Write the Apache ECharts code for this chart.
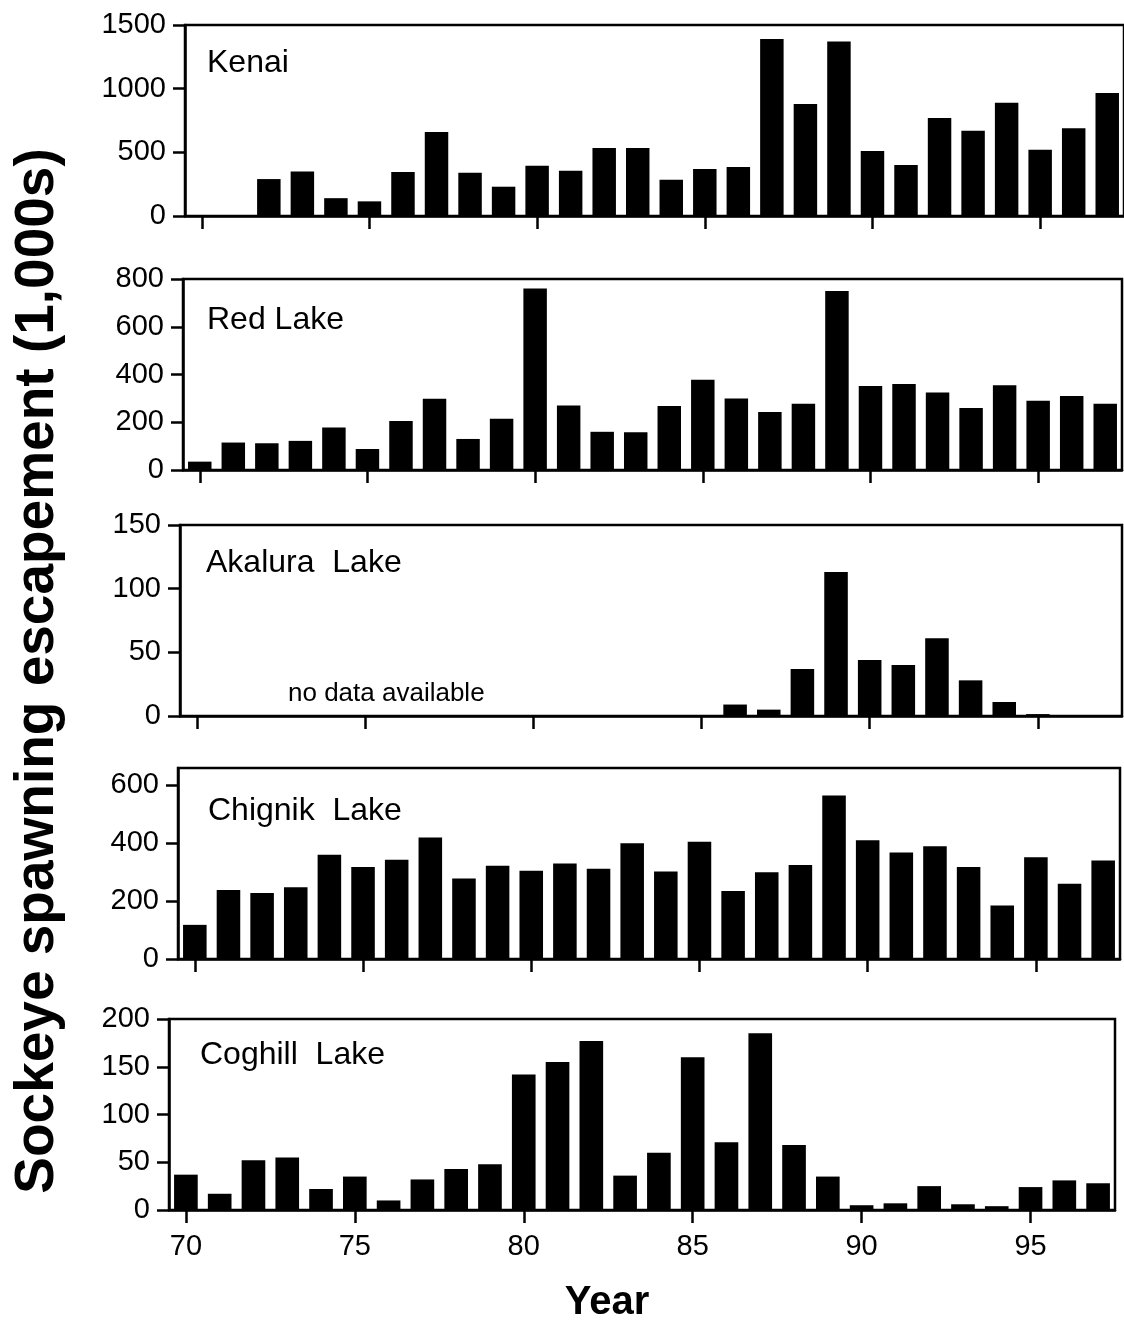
<!DOCTYPE html>
<html>
<head>
<meta charset="utf-8">
<script src="https://cdn.jsdelivr.net/npm/echarts@6/dist/echarts.min.js"></script>
<style>
html, body { margin: 0; padding: 0; background: #fff; }
#main { width: 1124px; height: 1322px; }
</style>
</head>
<body>
<div id="main"></div>
<script>
// years 1970-1997, shown as two digits
var years = ['70', '71', '72', '73', '74', '75', '76', '77', '78', '79',
    '80', '81', '82', '83', '84', '85', '86', '87', '88', '89',
    '90', '91', '92', '93', '94', '95', '96', '97'];

// spawning escapement, thousands of fish (null = no bar)
var kenai = [null, null, 290, 350, 140, 115, 345, 660, 340, 230, 395, 355, 535, 535,
    285, 370, 385, 1390, 880, 1370, 510, 400, 770, 670, 890, 520, 690, 965];
var redLake = [35, 115, 112, 122, 178, 88, 205, 298, 130, 215, 760, 270, 160, 158,
    268, 378, 300, 243, 278, 750, 352, 360, 325, 260, 355, 290, 310, 278];
var akalura = [null, null, null, null, null, null, null, null, null, null, null, null, null, null,
    null, null, 9, 5, 37, 113, 44, 40, 61, 28, 11, 1.5, null, null];
var chignik = [118, 238, 228, 248, 360, 318, 343, 420, 278, 322, 305, 330, 312, 400,
    302, 405, 235, 300, 325, 565, 410, 368, 390, 318, 185, 352, 260, 340];
var coghill = [37, 17, 52, 55, 22, 35, 10, 32, 43, 48, 142, 155, 177, 36,
    60, 160, 71, 185, 68, 35, 5, 7, 25, 6, 4, 24, 31, 28];

var panelNames = ['Kenai', 'Red Lake', 'Akalura  Lake', 'Chignik  Lake', 'Coghill  Lake'];
var panelData = [kenai, redLake, akalura, chignik, coghill];
var panelMax = [1500, 800, 150, 660, 200];
var panelTicks = [
    [0, 500, 1000, 1500],
    [0, 200, 400, 600, 800],
    [0, 50, 100, 150],
    [0, 200, 400, 600],
    [0, 50, 100, 150, 200]
];

var myChart = echarts.init(document.getElementById('main'));
var fontName = 'Liberation Sans';

// frame of each panel (the scanned page is a little tilted, so lefts differ)
var boxes = [
    { left: 185, top: 25, width: 941 },
    { left: 183, top: 279, width: 939 },
    { left: 180, top: 525, width: 942 },
    { left: 178, top: 768, width: 942 },
    { left: 169, top: 1019, width: 946 }
];
// label position inside each frame
var labelPos = [[207, 63], [207, 320], [206, 563], [208, 811], [200, 1055]];

var grids = [], xAxes = [], yAxes = [], series = [], graphics = [];

function everyFifth(idx) {
    return idx % 5 === 0;
}

for (var i = 0; i < 5; i++) {
    var last = (i === 4);
    grids.push({
        left: boxes[i].left,
        top: boxes[i].top,
        width: boxes[i].width,
        height: 191,
        show: true,
        borderColor: '#000',
        borderWidth: 2.5,
        backgroundColor: 'transparent'
    });
    xAxes.push({
        type: 'category',
        gridIndex: i,
        data: years,
        boundaryGap: true,
        axisLine: { show: true, lineStyle: { color: '#000', width: 2.5 } },
        axisTick: {
            show: true,
            alignWithLabel: true,
            inside: false,
            length: 13,
            interval: everyFifth,
            lineStyle: { color: '#000', width: 2.5 }
        },
        axisLabel: {
            show: last,
            interval: everyFifth,
            margin: 22,
            color: '#000',
            fontFamily: fontName,
            fontSize: 29
        },
        splitLine: { show: false }
    });
    yAxes.push({
        type: 'value',
        gridIndex: i,
        min: 0,
        max: panelMax[i],
        axisLine: { show: true, lineStyle: { color: '#000', width: 2.5 } },
        axisTick: {
            show: true,
            length: 12,
            customValues: panelTicks[i],
            lineStyle: { color: '#000', width: 2.5 }
        },
        axisLabel: {
            customValues: panelTicks[i],
            formatter: function (v) { return String(v); },
            margin: 19,
            color: '#000',
            fontFamily: fontName,
            fontSize: 29
        },
        splitLine: { show: false }
    });
    series.push({
        type: 'bar',
        xAxisIndex: i,
        yAxisIndex: i,
        data: panelData[i],
        barCategoryGap: '30%',
        itemStyle: { color: '#000' },
        silent: true
    });
    graphics.push({
        type: 'text',
        x: labelPos[i][0],
        y: labelPos[i][1],
        style: {
            text: panelNames[i],
            fill: '#000',
            fontFamily: fontName,
            fontSize: 32,
            align: 'left',
            verticalAlign: 'middle'
        }
    });
}

graphics.push({
    type: 'text',
    x: 288,
    y: 694,
    style: {
        text: 'no data available',
        fill: '#000',
        fontFamily: fontName,
        fontSize: 26,
        align: 'left',
        verticalAlign: 'middle'
    }
});
// y title, reads bottom to top
graphics.push({
    type: 'text',
    x: 38,
    y: 671,
    rotation: Math.PI / 2,
    style: {
        text: 'Sockeye spawning escapement (1,000s)',
        fill: '#000',
        fontFamily: fontName,
        fontWeight: 'bold',
        fontSize: 55,
        align: 'center',
        verticalAlign: 'middle'
    }
});
graphics.push({
    type: 'text',
    x: 607,
    y: 1303,
    style: {
        text: 'Year',
        fill: '#000',
        fontFamily: fontName,
        fontWeight: 'bold',
        fontSize: 40,
        align: 'center',
        verticalAlign: 'middle'
    }
});

option = {
    animation: false,
    backgroundColor: '#fff',
    grid: grids,
    xAxis: xAxes,
    yAxis: yAxes,
    series: series,
    graphic: graphics
};

myChart.setOption(option);
</script>
</body>
</html>
